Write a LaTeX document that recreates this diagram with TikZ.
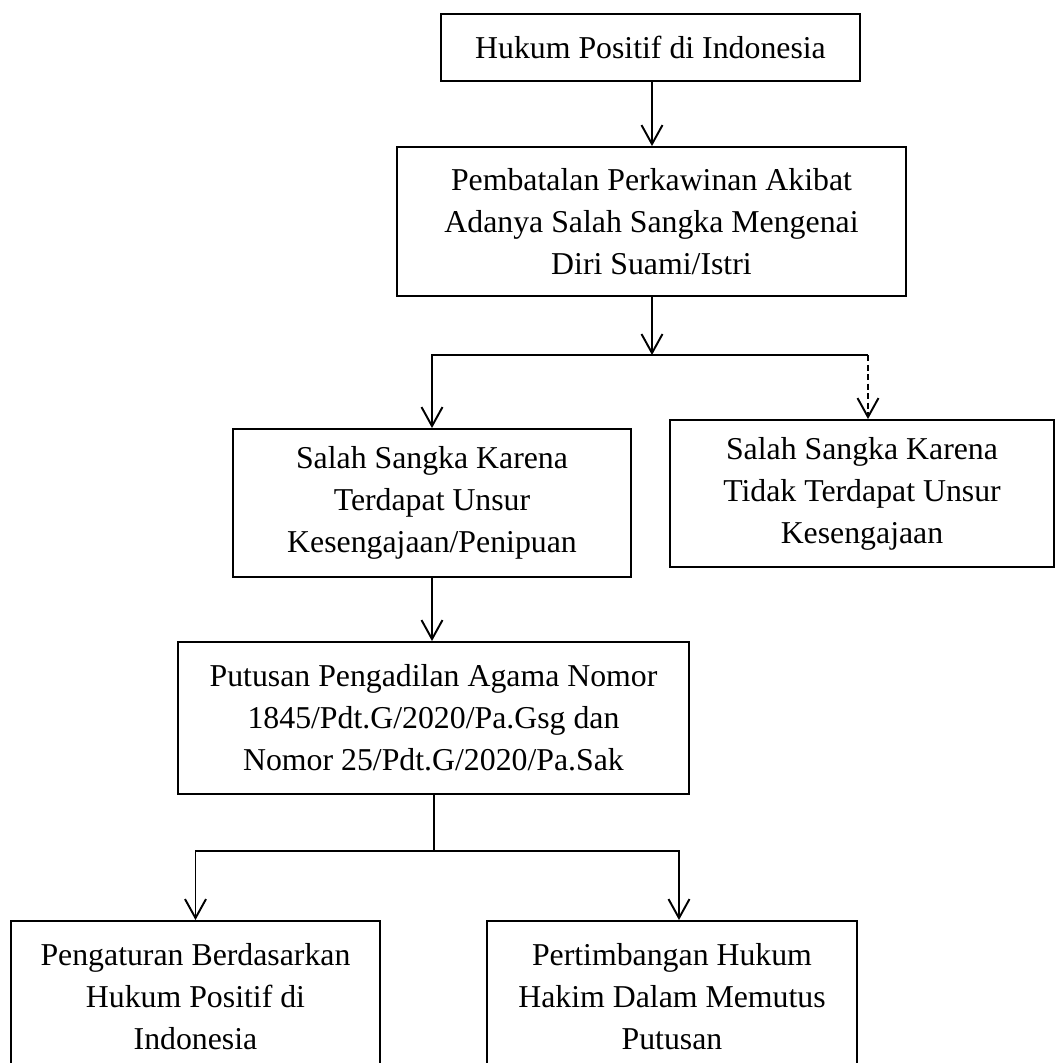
\documentclass[tikz,border=0pt]{standalone}
\usepackage{fontspec}
\setmainfont{Liberation Serif}
\usetikzlibrary{positioning}
\usetikzlibrary{arrows.meta}
\tikzstyle{box} = [draw, line width=1.1pt, align=center, inner sep=0pt, font=\fontsize{18.1}{23.9}\selectfont]
\tikzstyle{line} = [draw, line width=1.1pt, -{Straight Barb[length=0.38cm,width=0.42cm]}]
\tikzstyle{term} = [draw, line width=1.1pt]
\tikzstyle{dline} = [line, dash pattern=on 0.12cm off 0.07cm]

\begin{document}
\begin{tikzpicture}[x=0.02cm, y=-0.02cm]

  \path[use as bounding box, clip] (0,0) rectangle (1056,1063);

  % ============================== Top ========================================

  \node[box, minimum width=8.38cm, minimum height=1.34cm] (hk) at (650.5,47.5)
    {Hukum Positif di Indonesia};
  \node[box, minimum width=10.18cm, minimum height=2.98cm] (pb) at (651.5,221.5)
    {Pembatalan Perkawinan Akibat\\Adanya Salah Sangka Mengenai\\Diri Suami/Istri};

  % ============================ Salah Sangka =================================

  \node[box, minimum width=7.96cm, minimum height=2.96cm] (sk) at (432,503)
    {Salah Sangka Karena\\Terdapat Unsur\\Kesengajaan/Penipuan};
  \node[box, minimum width=7.68cm, minimum height=2.94cm] (st) at (862,493.5)
    {Salah Sangka Karena\\Tidak Terdapat Unsur\\Kesengajaan};

  % ============================== Putusan ====================================

  \node[box, minimum width=10.22cm, minimum height=3.04cm] (ps) at (433.5,718)
    {Putusan Pengadilan Agama Nomor\\1845/Pdt.G/2020/Pa.Gsg dan\\Nomor 25/Pdt.G/2020/Pa.Sak};
  \node[box, minimum width=7.38cm, minimum height=3.02cm] (pg) at (195.5,996.5)
    {Pengaturan Berdasarkan\\Hukum Positif di\\Indonesia};
  \node[box, minimum width=7.4cm, minimum height=3.02cm] (pt) at (672,996.5)
    {Pertimbangan Hukum\\Hakim Dalam Memutus\\Putusan};

  % ============================== Connect ====================================
  \coordinate (sp) at (652,355);
  \coordinate (spr) at (868,355);
  \coordinate (jb) at (434,851);
  \coordinate (jbr) at (679,851);

  \path[line]{(hk.south -| sp) -- (pb.north -| sp)};
  \path[line]{(pb.south -| sp) -- (sp)};
  \path[line]{(spr) -- (sp) -| (sk.north)};
  \path[dline]{(spr) -- (spr |- st.north)};
  \path[line]{(sk.south) -- (sk.south |- ps.north)};
  \path[term]{(ps.south -| jb) -- (jb)};
  \path[line]{(jb) -| (pg.north)};
  \path[line]{(jb) -- (jbr) -- (jbr |- pt.north)};

\end{tikzpicture}
\end{document}
